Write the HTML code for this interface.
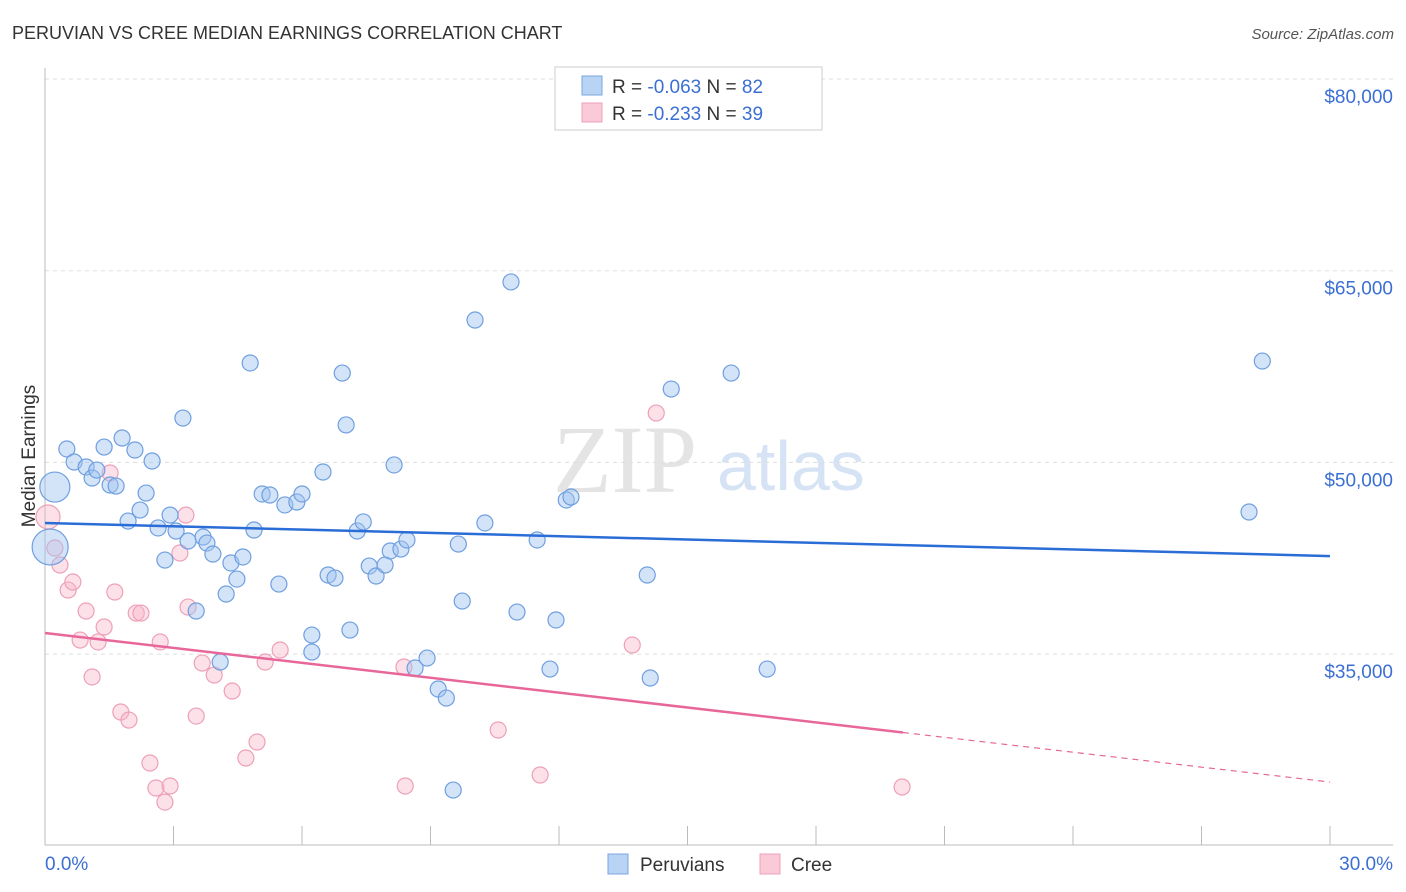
<!DOCTYPE html>
<html><head><meta charset="utf-8"><style>
body{margin:0;background:#fff;font-family:"Liberation Sans",sans-serif;}
svg{display:block}
</style></head><body>
<svg id="chart" width="1406" height="892" viewBox="0 0 1406 892">
<text x="12" y="39" font-size="18" fill="#333">PERUVIAN VS CREE MEDIAN EARNINGS CORRELATION CHART</text>
<text x="1394" y="39" font-size="15" fill="#555" font-style="italic" text-anchor="end">Source: ZipAtlas.com</text>
<g>
<text x="553" y="492" font-size="96" fill="#e4e4e4" font-family="Liberation Serif,serif">ZIP</text>
<text x="717" y="490" font-size="70" fill="#d6e3f5">atlas</text>
</g>
<g id="grid"></g>
<g id="axes"></g>
<g id="pts"></g>
<g id="trends"></g>
<text transform="translate(35,456) rotate(-90)" font-size="19" fill="#333" text-anchor="middle">Median Earnings</text>
<text x="45" y="870" font-size="19" fill="#3b6fd4">0.0%</text>
<text x="1393" y="870" font-size="19" fill="#3b6fd4" text-anchor="end">30.0%</text>
<g>
<rect x="555" y="67" width="267" height="63" fill="#fff" stroke="#ccc"/>
<rect x="582" y="76" width="20" height="19" fill="#b9d3f5" stroke="#7aa6e0"/>
<rect x="582" y="103" width="20" height="19" fill="#fbcad8" stroke="#eea0b8"/>
<text x="612" y="93" font-size="19" fill="#333">R = <tspan fill="#3b6fd4">-0.063</tspan>   N = <tspan fill="#3b6fd4">82</tspan></text>
<text x="612" y="120" font-size="19" fill="#333">R =  <tspan fill="#3b6fd4">-0.233</tspan>   N = <tspan fill="#3b6fd4">39</tspan></text>
</g>
<g>
<rect x="608" y="854" width="20" height="20" fill="#b9d3f5" stroke="#7aa6e0"/>
<text x="640" y="871" font-size="19" fill="#333">Peruvians</text>
<rect x="760" y="854" width="20" height="20" fill="#fbcad8" stroke="#eea0b8"/>
<text x="791" y="871" font-size="19" fill="#333">Cree</text>
</g>
</svg>
<script>
const yTicks=[80000,65000,50000,35000];
const yTickLabels=["$80,000","$65,000","$50,000","$35,000"];
const xTicks=[0,3,6,9,12,15,18,21,24,27,30];
const peruX=[0.23,0.12,0.51,0.68,0.96,1.10,1.21,1.38,1.52,1.66,1.80,1.94,2.10,2.22,2.36,2.50,2.64,2.80,2.92,3.06,3.22,3.34,3.53,3.69,3.78,3.92,4.09,4.23,4.34,4.48,4.62,4.79,4.88,5.07,5.25,5.46,5.60,5.88,6.00,6.23,6.23,6.49,6.61,6.77,6.94,7.03,7.12,7.29,7.43,7.57,7.73,7.94,8.06,8.15,8.31,8.45,8.64,8.92,9.18,9.37,9.53,9.65,9.74,10.04,10.27,10.88,11.02,11.49,11.79,11.93,12.17,12.28,14.06,14.13,14.62,16.02,16.86,28.11,28.42];
const peruY=[48.07,43.38,51.05,50.03,49.64,48.78,49.40,51.20,48.23,48.15,51.91,45.41,50.97,46.27,47.60,50.11,44.87,42.36,45.88,44.63,53.47,43.85,38.37,44.16,43.69,42.83,34.38,39.70,42.13,40.87,42.60,57.78,44.71,47.53,47.45,40.48,46.67,46.90,47.53,36.49,35.16,49.25,41.19,40.95,56.99,52.93,36.88,44.63,45.34,41.89,41.11,41.97,43.07,49.80,43.22,43.93,33.91,34.69,32.27,31.56,24.36,43.61,39.15,61.14,45.26,64.12,38.29,43.93,33.83,37.67,47.06,47.29,41.19,33.13,55.74,56.99,33.83,46.12,57.93];
const peruR=[15,18];
const creeX=[0.07,0.23,0.35,0.54,0.65,0.82,0.96,1.10,1.24,1.38,1.52,1.63,1.77,1.96,2.13,2.24,2.45,2.59,2.69,2.80,2.92,3.15,3.29,3.34,3.53,3.67,3.95,4.37,4.69,4.95,5.14,5.49,8.38,8.41,10.58,11.56,13.71,14.27,20.01];
const creeY=[45.73,43.30,41.97,40.01,40.64,36.10,38.37,33.21,35.95,37.12,49.17,39.86,30.47,29.84,38.21,38.21,26.48,24.52,35.95,23.42,24.68,42.91,45.88,38.68,30.15,34.30,33.36,32.11,26.87,28.12,34.38,35.32,33.99,24.68,29.06,25.54,35.71,53.86,24.60];
const blueTrend=[45.26,42.67];
const pinkTrend=[36.65,24.99];
const pinkSolidEnd=20.03;

const X=v=>45+v*42.833;
const Y=k=>79+(80-k)*12.78;
const NS='http://www.w3.org/2000/svg';
function mk(tag,attrs,parent){const e=document.createElementNS(NS,tag);for(const k in attrs)e.setAttribute(k,attrs[k]);document.getElementById(parent).appendChild(e);return e;}

yTicks.forEach((t,i)=>{
 const l=mk('line',{x1:45,x2:1393,y1:Y(t/1000),y2:Y(t/1000),stroke:'#ddd','stroke-dasharray':'4,4'},'grid');
 
 
 const tx=mk('text',{x:1393,y:Y(t/1000)+24,'font-size':19,fill:'#3b6fd4','text-anchor':'end'},'grid');
 tx.textContent=yTickLabels[i];
 
 
});
let ax=mk('line',{x1:45,x2:45,y1:68,y2:845,stroke:'#bbb'},'axes');


ax=mk('line',{x1:45,x2:1393,y1:845,y2:845,stroke:'#bbb'},'axes');


xTicks.forEach(t=>{
 const l=mk('line',{x1:X(t),x2:X(t),y1:826,y2:845,stroke:'#bbb'},'axes');
 
 
});
creeX.forEach((x,i)=>{
 const c=mk('circle',{cx:X(x),cy:Y(creeY[i]),r:i===0?12:8,fill:'rgba(248,180,200,0.4)',stroke:'#eea0b8','stroke-width':1.2},'pts');
 
 
});
peruX.forEach((x,i)=>{
 const c=mk('circle',{cx:X(x),cy:Y(peruY[i]),r:i<2?peruR[i]:8,fill:'rgba(160,195,240,0.45)',stroke:'#6f9fe0','stroke-width':1.2},'pts');
 
 
});
let t=mk('line',{x1:X(0),x2:X(30),y1:Y(blueTrend[0]),y2:Y(blueTrend[1]),stroke:'#2a6dd6','stroke-width':2.5},'trends');


const pAt=x=>pinkTrend[0]+(pinkTrend[1]-pinkTrend[0])*x/30;
t=mk('line',{x1:X(0),x2:X(pinkSolidEnd),y1:Y(pAt(0)),y2:Y(pAt(pinkSolidEnd)),stroke:'#e8679a','stroke-width':2.5},'trends');


t=mk('line',{x1:X(pinkSolidEnd),x2:X(30),y1:Y(pAt(pinkSolidEnd)),y2:Y(pAt(30)),stroke:'#e8679a','stroke-width':1.2,'stroke-dasharray':'6,5'},'trends');


</script>
</body></html>
